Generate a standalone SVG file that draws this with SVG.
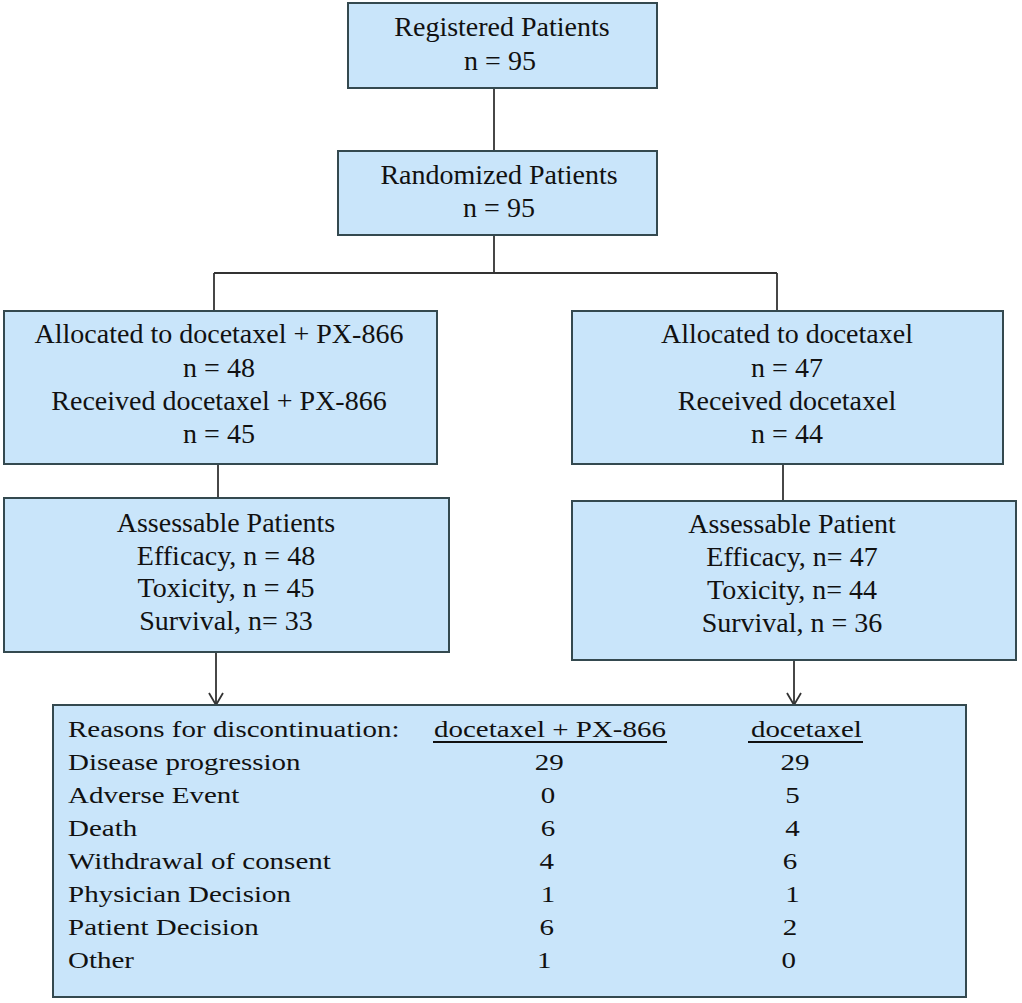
<svg xmlns="http://www.w3.org/2000/svg" width="1022" height="1003" viewBox="0 0 1022 1003">
<style>
.box{fill:#c9e5fa;stroke:#34494f;stroke-width:2}
.t{font-family:"Liberation Serif","Times New Roman",serif;font-size:28px;fill:#111;text-anchor:middle}
.r{font-family:"Liberation Serif","Times New Roman",serif;font-size:23px;fill:#111}
.c{text-anchor:middle}
.ln{fill:none;stroke:#333;stroke-width:1.8}
.ul{stroke:#111;stroke-width:1.8}
</style>
<defs>
<marker id="arr" markerUnits="userSpaceOnUse" markerWidth="20" markerHeight="20" viewBox="0 0 20 20" refX="16" refY="10" orient="auto">
<path d="M4,3 L16,10 L4,17" fill="none" stroke="#333" stroke-width="1.8"/>
</marker>
</defs>
<rect width="1022" height="1003" fill="#fff"/>
<g id="connectors">
<line class="ln" x1="494" y1="88" x2="494" y2="151"/>
<path class="ln" d="M494,235 V273 M214,273 H777 M214,273 V311 M777,273 V311"/>
<line class="ln" x1="218" y1="464" x2="218" y2="498"/>
<line class="ln" x1="783" y1="464" x2="783" y2="501"/>
<line class="ln" x1="216" y1="652" x2="216" y2="705" marker-end="url(#arr)"/>
<line class="ln" x1="794" y1="660" x2="794" y2="705" marker-end="url(#arr)"/>
</g>
<g id="registered">
<rect class="box" x="348" y="3" width="309" height="85"/>
<text class="t" x="502" y="36">Registered Patients</text>
<text class="t" x="500" y="70">n = 95</text>
</g>
<g id="randomized">
<rect class="box" x="338" y="151" width="319" height="84"/>
<text class="t" x="499" y="184">Randomized Patients</text>
<text class="t" x="499" y="217">n = 95</text>
</g>
<g id="allocated-combo">
<rect class="box" x="4" y="311" width="433" height="153"/>
<text class="t" x="219" y="343">Allocated to docetaxel + PX-866</text>
<text class="t" x="219" y="377">n = 48</text>
<text class="t" x="219" y="410">Received docetaxel + PX-866</text>
<text class="t" x="219" y="443">n = 45</text>
</g>
<g id="allocated-doce">
<rect class="box" x="572" y="311" width="431" height="153"/>
<text class="t" x="787" y="343">Allocated to docetaxel</text>
<text class="t" x="787" y="377">n = 47</text>
<text class="t" x="787" y="410">Received docetaxel</text>
<text class="t" x="787" y="443">n = 44</text>
</g>
<g id="assess-combo">
<rect class="box" x="4" y="498" width="445" height="154"/>
<text class="t" x="226" y="532">Assessable Patients</text>
<text class="t" x="226" y="565">Efficacy, n = 48</text>
<text class="t" x="226" y="597">Toxicity, n = 45</text>
<text class="t" x="226" y="630">Survival, n= 33</text>
</g>
<g id="assess-doce">
<rect class="box" x="572" y="501" width="444" height="159"/>
<text class="t" x="792" y="533">Assessable Patient</text>
<text class="t" x="792" y="566">Efficacy, n= 47</text>
<text class="t" x="792" y="599">Toxicity, n= 44</text>
<text class="t" x="792" y="632">Survival, n = 36</text>
</g>
<g id="reasons">
<rect class="box" x="53" y="705" width="913" height="292"/>
<g transform="scale(1.26,1)">
<text class="r" x="54" y="737">Reasons for discontinuation:</text>
<text class="r" x="54" y="770">Disease progression</text>
<text class="r" x="54" y="803">Adverse Event</text>
<text class="r" x="54" y="836">Death</text>
<text class="r" x="54" y="869">Withdrawal of consent</text>
<text class="r" x="54" y="902">Physician Decision</text>
<text class="r" x="54" y="935">Patient Decision</text>
<text class="r" x="54" y="968">Other</text>
<text class="r c" x="436.5" y="737">docetaxel + PX-866</text>
<text class="r c" x="640" y="737">docetaxel</text>
<text class="r c" x="436" y="770">29</text>
<text class="r c" x="435" y="803">0</text>
<text class="r c" x="435" y="836">6</text>
<text class="r c" x="434" y="869">4</text>
<text class="r c" x="435" y="902">1</text>
<text class="r c" x="434" y="935">6</text>
<text class="r c" x="432" y="968">1</text>
<text class="r c" x="631" y="770">29</text>
<text class="r c" x="629" y="803">5</text>
<text class="r c" x="629" y="836">4</text>
<text class="r c" x="627" y="869">6</text>
<text class="r c" x="629" y="902">1</text>
<text class="r c" x="627" y="935">2</text>
<text class="r c" x="626" y="968">0</text>
</g>
<line class="ul" x1="433" y1="742" x2="667" y2="742"/>
<line class="ul" x1="748" y1="742" x2="863" y2="742"/>
</g>
</svg>
